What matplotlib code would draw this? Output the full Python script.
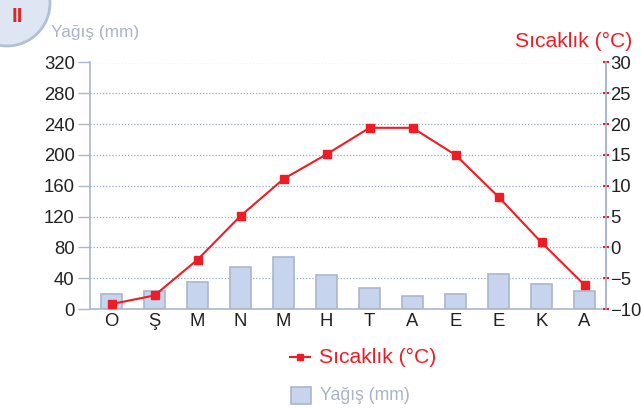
import matplotlib
matplotlib.use("Agg")
import matplotlib.pyplot as plt
from matplotlib.patches import Circle, Rectangle
from matplotlib.lines import Line2D

plt.rcParams['font.family'] = ['Liberation Sans', 'DejaVu Sans']

months = ['O', 'Ş', 'M', 'N', 'M', 'H', 'T', 'A', 'E', 'E', 'K', 'A']
rain = [20, 24, 35, 55, 67, 44, 27, 17, 20, 45, 33, 23]
temp = [-9.2, -7.8, -2.0, 5.1, 11.1, 15.1, 19.4, 19.4, 15.0, 8.2, 0.8, -6.1]
left_ticks = [0, 40, 80, 120, 160, 200, 240, 280, 320]
right_ticks = [-10, -5, 0, 5, 10, 15, 20, 25, 30]

RED = '#ee1c25'
AX = '#aab6cc'
BAR = '#c6d4ee'
TXT = '#222222'
H = 408

fig = plt.figure(figsize=(6.41, 4.08), dpi=100)
ax = fig.add_axes([90/641, 1-309/H, (606-90)/641, (309-62.5)/H])
x = list(range(len(months)))
ax.bar(x, rain, width=0.49, color=BAR, edgecolor=AX, linewidth=1.2, zorder=2)
ax.set_xlim(-0.5, len(months)-0.5)
ax.set_ylim(0, 320)
ax.set_yticks(left_ticks)
ax.set_yticklabels([str(v) for v in left_ticks], fontsize=13.3, color=TXT)
ax.set_xticks(x)
ax.set_xticklabels(months, fontsize=13.3, color=TXT)
ax.tick_params(axis='x', length=0, pad=3)
ax.tick_params(axis='y', length=9, width=1, color=AX, pad=2)
for v in left_ticks[1:]:
    ax.axhline(v, color='#9aa9c4', linestyle=(0, (1, 1.5)), linewidth=0.9, zorder=1)
ax.spines['top'].set_visible(False)
for s in ['left', 'bottom', 'right']:
    ax.spines[s].set_color(AX)
    ax.spines[s].set_linewidth(1.2)

ax2 = ax.twinx()
ax2.set_ylim(-10, 30)
ax2.set_yticks(right_ticks)
ax2.set_yticklabels([str(v).replace('-', '\u2212') for v in right_ticks], fontsize=13.3, color=TXT)
ax2.tick_params(axis='y', length=4, width=1.5, color=RED, pad=1, direction='inout')
for s in ['top', 'left', 'bottom']:
    ax2.spines[s].set_visible(False)
ax2.spines['right'].set_color(AX)
ax2.spines['right'].set_linewidth(1.2)
ax2.plot(x, temp, color=RED, linewidth=1.5, marker='s', markersize=6, zorder=3)

# header decorations (pixel coordinates)
circ = Circle((7, H-3), 43, transform=None, facecolor='#dfe6f3',
              edgecolor='#b3bfd5', linewidth=2, zorder=0)
fig.patches.append(circ)
fig.text(17/641, 1-17/H, 'II', color='#d42a2a', fontsize=15, fontweight='bold', ha='center', va='center')
fig.text(51/641, 1-33/H, 'Yağış (mm)', color='#a9b4c8', fontsize=12.4, ha='left', va='center')
fig.text(632/641, 1-41/H, 'Sıcaklık (°C)', color=RED, fontsize=15.2, ha='right', va='center')

# legend
fig.add_artist(Line2D([290/641, 310/641], [1-357/H, 1-357/H], color=RED, linewidth=1.5,
                      transform=fig.transFigure))
fig.add_artist(Line2D([300/641], [1-357/H], color=RED, marker='s', markersize=5,
                      linestyle='none', transform=fig.transFigure))
fig.text(319/641, 1-357/H, 'Sıcaklık (°C)', color=RED, fontsize=15.2, ha='left', va='center')
fig.patches.append(Rectangle((291/641, 1-404/H), 20/641, 17/H, transform=fig.transFigure,
                             facecolor=BAR, edgecolor=AX, linewidth=1.2))
fig.text(320/641, 1-396/H, 'Yağış (mm)', color='#a9b4c8', fontsize=12.7, ha='left', va='center')

fig.savefig('out.png', dpi=100)
